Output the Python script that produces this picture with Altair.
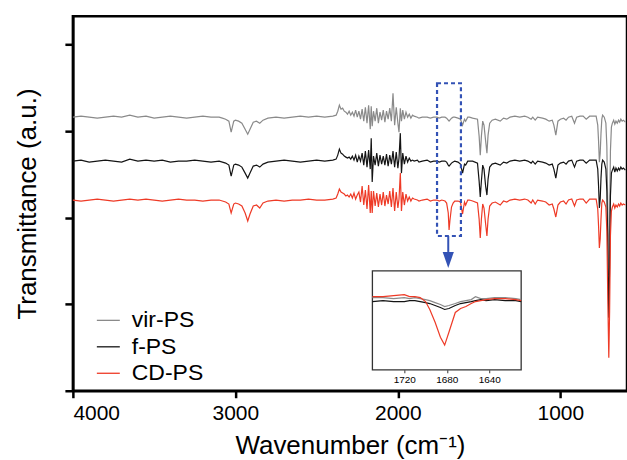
import altair as alt
import pandas as pd

FONT = "Liberation Sans"
BLUE = "#3352b5"

series_names = ["vir-PS", "f-PS", "CD-PS"]
series_colors = ["#8a8a8a", "#141414", "#ee3a26"]

wavenumber = [
    4000, 3950, 3900, 3850, 3800, 3750, 3700, 3650, 3600, 3550,
    3500, 3450, 3400, 3350, 3300, 3250, 3200, 3150, 3100, 3080,
    3060, 3040, 3026, 3010, 3000, 2980, 2960, 2940, 2924, 2910,
    2890, 2870, 2850, 2830, 2800, 2750, 2700, 2650, 2600, 2550,
    2500, 2450, 2400, 2380, 2370, 2360, 2350, 2340, 2330, 2320,
    2310, 2300, 2290, 2280, 2270, 2260, 2250, 2240, 2230, 2220,
    2210, 2200, 2190, 2180, 2170, 2164, 2158, 2150, 2140, 2130,
    2120, 2110, 2100, 2090, 2080, 2070, 2060, 2050, 2040, 2030,
    2020, 2010, 2000, 1993, 1985, 1978, 1970, 1960, 1950, 1940,
    1930, 1920, 1910, 1900, 1880, 1870, 1850, 1820, 1800, 1780,
    1760, 1745, 1730, 1710, 1700, 1690, 1685, 1680, 1670, 1660,
    1650, 1630, 1615, 1602, 1590, 1583, 1570, 1560, 1540, 1510,
    1500, 1493, 1486, 1478, 1470, 1460, 1452, 1445, 1435, 1420,
    1400, 1370, 1350, 1330, 1310, 1280, 1250, 1220, 1200, 1180,
    1170, 1155, 1140, 1110, 1090, 1069, 1050, 1040, 1028, 1015,
    1000, 980, 965, 950, 930, 913, 900, 880, 860, 841,
    820, 800, 780, 770, 765, 760, 755, 750, 745, 740,
    730, 720, 714, 708, 702, 697, 692, 686, 680, 672,
    665, 658, 650, 642, 635, 628, 620, 612, 600,
]

vir_ps = [
    274, 275, 274, 273, 274, 275, 274, 276, 274, 275,
    273, 274, 275, 274, 273, 274, 275, 274, 274, 273,
    272, 270, 259, 270, 271, 270, 268, 262, 257, 262,
    269, 270, 268, 271, 273, 274, 273, 274, 275, 274,
    275, 274, 275, 276, 280, 286, 282, 283, 280, 279,
    277, 280, 276, 279, 275, 281, 274, 280, 272, 282,
    270, 284, 268, 286, 262, 285, 265, 280, 270, 283,
    268, 279, 271, 281, 269, 280, 272, 283, 270, 298,
    266, 284, 268, 259, 283, 270, 281, 272, 279, 274,
    277, 273, 276, 275, 274, 273, 274, 274, 273, 274,
    274, 273, 274, 274, 273, 271, 270, 271, 273, 274,
    274, 273, 272, 266, 272, 270, 274, 274, 273, 272,
    255, 236, 255, 270, 266, 250, 238, 256, 268, 271,
    272, 270, 273, 272, 274, 275, 274, 275, 274, 272,
    274, 271, 274, 273, 272, 270, 271, 266, 256, 270,
    272, 273, 271, 274, 275, 268, 274, 275, 275, 272,
    275, 275, 275, 266, 250, 229, 238, 258, 272, 276,
    274, 268, 245, 180, 116, 170, 240, 264, 268, 271,
    267, 270, 268, 271, 269, 272, 270, 271, 269,
]

f_ps = [
    230, 231, 229, 230, 231, 230, 229, 232, 230, 231,
    230, 231, 229, 230, 230, 231, 230, 229, 230, 229,
    228, 226, 215, 226, 227, 226, 224, 218, 213, 218,
    225, 226, 224, 227, 229, 230, 231, 230, 229, 230,
    231, 230, 231, 232, 236, 242, 238, 237, 235, 234,
    233, 234, 232, 235, 231, 236, 229, 235, 230, 238,
    226, 240, 224, 241, 222, 253, 209, 235, 226, 238,
    225, 236, 227, 235, 226, 237, 225, 236, 227, 240,
    224, 239, 223, 233, 258, 218, 238, 227, 235, 229,
    233, 230, 231, 230, 231, 229, 230, 231, 229, 230,
    230, 229, 230, 230, 229, 226, 225, 226, 228, 229,
    230, 229, 227, 218, 227, 226, 230, 230, 230, 228,
    210, 194, 210, 226, 222, 205, 196, 212, 224, 227,
    228, 226, 229, 228, 230, 231, 230, 231, 230, 228,
    230, 227, 230, 229, 228, 226, 227, 222, 213, 226,
    228, 229, 227, 230, 231, 224, 230, 231, 231, 228,
    231, 231, 231, 222, 205, 183, 192, 213, 227, 231,
    229, 222, 200, 140, 73, 125, 195, 218, 221, 224,
    219, 223, 220, 223, 221, 224, 222, 223, 221,
]

cd_ps = [
    191, 190, 191, 192, 191, 190, 191, 192, 191, 192,
    191, 190, 191, 192, 191, 191, 190, 191, 191, 190,
    189, 187, 178, 187, 188, 187, 185, 178, 170, 177,
    185, 186, 183, 188, 190, 191, 190, 191, 191, 192,
    191, 191, 192, 193, 197, 202, 199, 198, 197, 195,
    196, 194, 197, 193, 198, 192, 196, 199, 189, 205,
    186, 201, 182, 206, 178, 200, 178, 200, 185, 198,
    184, 197, 186, 199, 185, 196, 187, 200, 184, 203,
    180, 199, 183, 192, 218, 180, 199, 186, 197, 190,
    194, 190, 193, 192, 191, 190, 191, 192, 190, 191,
    191, 190, 191, 190, 188, 178, 161, 170, 184, 188,
    190, 190, 189, 177, 189, 186, 191, 191, 190, 188,
    172, 153, 172, 187, 183, 167, 155, 172, 185, 188,
    189, 186, 190, 189, 191, 192, 191, 192, 191, 188,
    191, 187, 191, 190, 189, 186, 187, 182, 174, 186,
    189, 190, 187, 191, 192, 185, 191, 192, 192, 188,
    192, 192, 192, 182, 165, 143, 152, 172, 188, 191,
    189, 184, 160, 90, 33, 80, 155, 180, 184, 187,
    183, 186, 184, 187, 185, 188, 186, 187, 186,
]

inset_wavenumber = [1750, 1740, 1730, 1720, 1715, 1710, 1705, 1700, 1696, 1691, 1686, 1682,
                    1678, 1672, 1667, 1662, 1657, 1653, 1648, 1643, 1635, 1625, 1615, 1610]
inset_vir_ps = [73, 73, 72, 73, 72, 73, 72, 71, 70, 68, 66, 64,
                65, 67, 69, 70, 71, 74, 72, 72, 73, 73, 72, 71]
inset_f_ps = [69, 70, 69, 69, 70, 70, 69, 68, 67, 65, 63, 61,
              62, 65, 67, 68, 69, 70, 71, 70, 71, 70, 70, 69]
inset_cd_ps = [74, 74, 75, 76, 74, 74, 73, 69, 61, 48, 33, 25,
               38, 58, 62, 64, 67, 69, 70, 71, 72, 72, 71, 70]

x_ticks = [1000, 2000, 3000, 4000]
y_ticks = [0, 87, 173, 260, 347]
inset_ticks = [1720, 1680, 1640]
x_domain = [590, 4000]
y_domain = [0, 375]
inset_x_domain = [1610, 1750]
inset_y_domain = [0, 100]

zoom_wn = [1759, 1612]
zoom_t = [155, 308]
arrow_wn = [1690]
arrow_t = [155, 139]
arrow_head_t = [131]


def to_long(wn, values_by_series):
    rows = []
    for name, vals in zip(series_names, values_by_series):
        assert len(vals) == len(wn), name
        for w, v in zip(wn, vals):
            rows.append({"wavenumber": w, "transmittance": v, "sample": name})
    return pd.DataFrame(rows)


main_df = to_long(wavenumber, [vir_ps, f_ps, cd_ps])
inset_df = to_long(inset_wavenumber, [inset_vir_ps, inset_f_ps, inset_cd_ps])

xscale = alt.Scale(domain=x_domain, reverse=True, nice=False, zero=False)
yscale = alt.Scale(domain=y_domain, nice=False, zero=False)

xaxis = alt.Axis(
    title="Wavenumber (cm⁻¹)", values=x_ticks, format="d", grid=False,
    domainColor="black", domainWidth=2.5, tickColor="black", tickWidth=2.5, tickSize=7,
    labelFont=FONT, labelFontSize=21, labelColor="black", labelPadding=5,
    titleFont=FONT, titleFontSize=26, titleFontWeight="normal", titleColor="black", titlePadding=9,
)
yaxis = alt.Axis(
    title="Transmittance (a.u.)", values=y_ticks, labels=False, grid=False,
    domainColor="black", domainWidth=2.5, tickColor="black", tickWidth=2.5, tickSize=8,
    titleFont=FONT, titleFontSize=26, titleFontWeight="normal", titleColor="black", titlePadding=23,
)

color_scale = alt.Scale(domain=series_names, range=series_colors)

main_lines = alt.Chart(main_df).mark_line(strokeWidth=1.2).encode(
    x=alt.X("wavenumber:Q", scale=xscale, axis=xaxis),
    y=alt.Y("transmittance:Q", scale=yscale, axis=yaxis),
    color=alt.Color(
        "sample:N", scale=color_scale,
        legend=alt.Legend(
            title=None, orient="none", legendX=23, legendY=292, padding=0,
            symbolType="stroke", symbolSize=529, symbolStrokeWidth=1.3,
            labelFont=FONT, labelFontSize=23, labelColor="black", labelOffset=11,
            rowPadding=1.5,
        ),
    ),
)

zoom_df = pd.DataFrame({
    "wavenumber": [zoom_wn[0]], "wavenumber_end": [zoom_wn[1]],
    "transmittance": [zoom_t[0]], "transmittance_end": [zoom_t[1]],
})
zoom_box = alt.Chart(zoom_df).mark_rect(
    fillOpacity=0, stroke=BLUE, strokeWidth=2.2, strokeDash=[4, 3]
).encode(
    x=alt.X("wavenumber:Q", scale=xscale, axis=xaxis),
    x2="wavenumber_end:Q",
    y=alt.Y("transmittance:Q", scale=yscale, axis=yaxis),
    y2="transmittance_end:Q",
)

arrow_df = pd.DataFrame({
    "wavenumber": arrow_wn, "transmittance": [arrow_t[0]], "transmittance_end": [arrow_t[1]],
})
arrow_rule = alt.Chart(arrow_df).mark_rule(color=BLUE, strokeWidth=2).encode(
    x=alt.X("wavenumber:Q", scale=xscale, axis=xaxis),
    y=alt.Y("transmittance:Q", scale=yscale, axis=yaxis),
    y2="transmittance_end:Q",
)
head_df = pd.DataFrame({"wavenumber": arrow_wn, "transmittance": arrow_head_t})
arrow_head = alt.Chart(head_df).mark_point(
    shape="M-0.7,-1L0.7,-1L0,1Z", filled=True, size=256, color=BLUE, opacity=1
).encode(
    x=alt.X("wavenumber:Q", scale=xscale, axis=xaxis),
    y=alt.Y("transmittance:Q", scale=yscale, axis=yaxis),
)

main_group = alt.layer(main_lines, zoom_box, arrow_rule, arrow_head)

inset_xscale = alt.Scale(domain=inset_x_domain, reverse=True, range=[300, 449], nice=False, zero=False)
inset_yscale = alt.Scale(domain=inset_y_domain, range=[354, 255], nice=False, zero=False)
inset_xaxis = alt.Axis(
    orient="bottom", offset=-21, values=inset_ticks, format="d", title=None, grid=False,
    domain=False, tickColor="#333333", tickWidth=1, tickSize=3,
    labelFont=FONT, labelFontSize=10, labelColor="black", labelPadding=2,
)

frame_df = pd.DataFrame({
    "wavenumber": [inset_x_domain[1]], "wavenumber_end": [inset_x_domain[0]],
    "transmittance": [inset_y_domain[0]], "transmittance_end": [inset_y_domain[1]],
})
inset_frame = alt.Chart(frame_df).mark_rect(fill="white", stroke="#333333", strokeWidth=1.3).encode(
    x=alt.X("wavenumber:Q", scale=inset_xscale, axis=inset_xaxis),
    x2="wavenumber_end:Q",
    y=alt.Y("transmittance:Q", scale=inset_yscale, axis=None),
    y2="transmittance_end:Q",
)
inset_lines = alt.Chart(inset_df).mark_line(strokeWidth=1.2).encode(
    x=alt.X("wavenumber:Q", scale=inset_xscale, axis=inset_xaxis),
    y=alt.Y("transmittance:Q", scale=inset_yscale, axis=None),
    color=alt.Color("sample:N", scale=color_scale, legend=None),
)
inset_group = alt.layer(inset_frame, inset_lines)

chart = alt.layer(main_group, inset_group).resolve_scale(
    x="independent", y="independent"
).properties(
    width=555, height=375, autosize="none",
    padding={"left": 73, "top": 16, "right": 0, "bottom": 69},
).configure_view(stroke="black", strokeWidth=2.5)

chart.save("out.html", embed_options={"renderer": "svg", "actions": False})
